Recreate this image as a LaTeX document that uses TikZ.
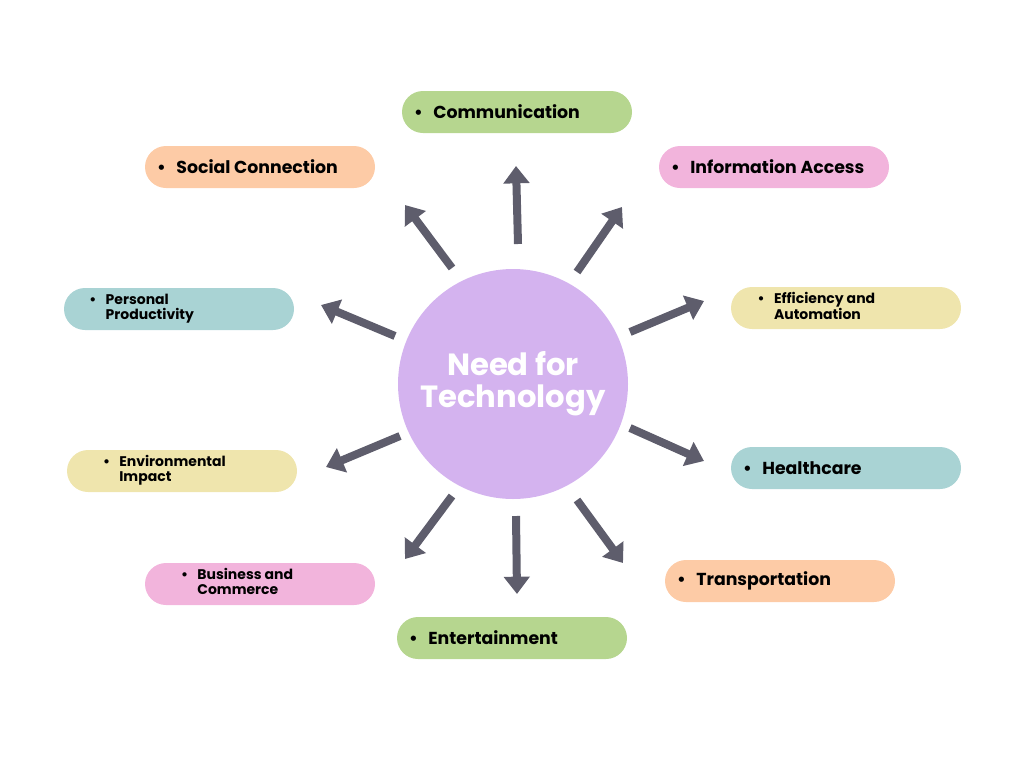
\documentclass[tikz,border=0pt]{standalone}
\usepackage{fontspec}
\setmainfont{Poppins}
\usetikzlibrary{arrows.meta}
\definecolor{pgreen}{HTML}{B6D68F}
\definecolor{ppeach}{HTML}{FDCBA6}
\definecolor{ppink}{HTML}{F2B4DC}
\definecolor{pteal}{HTML}{A9D3D4}
\definecolor{pyellow}{HTML}{EFE5AD}
\definecolor{ppurple}{HTML}{D4B3EF}
\definecolor{arrowgray}{HTML}{5E5D6C}
\tikzset{
  pill/.style={fill=#1, draw=none, rounded corners=15.75pt, minimum width=172.5pt, minimum height=31.5pt, inner sep=0pt},
  one/.style={anchor=west, inner sep=0pt, font=\bfseries\fontsize{13}{15}\selectfont},
  two/.style={anchor=west, inner sep=0pt, font=\bfseries\fontsize{10.5}{11.5}\selectfont},
  spoke/.style={draw=arrowgray, line width=6pt, -{Triangle[width=19pt,length=13pt]}},
}
\newcommand{\onetext}[1]{\textbullet\hspace{8pt}#1}
\newcommand{\twotext}[2]{\begin{tabular}{@{}l@{\hspace{7pt}}l@{}}\textbullet & #1\\ & #2\end{tabular}}
\begin{document}
\begin{tikzpicture}[x=0.75pt,y=0.75pt,yscale=-1,xscale=1]
\useasboundingbox (0,0) rectangle (1024,768);

% centre
\node[circle, fill=ppurple, minimum size=172.5pt, inner sep=0pt, align=center, text=white,
      font=\bfseries\fontsize{23}{24}\selectfont] (need) at (513,384) {Need for\\Technology};

% pills
\node[pill=pgreen]  (comm) at (517,112) {};
\node[pill=ppeach]  (soc)  at (260,167) {};
\node[pill=ppink]   (info) at (774,167) {};
\node[pill=pteal]   (pers) at (179,309) {};
\node[pill=pyellow] (eff)  at (846,308) {};
\node[pill=pyellow] (env)  at (182,471) {};
\node[pill=pteal]   (heal) at (846,468) {};
\node[pill=ppink]   (bus)  at (260,584) {};
\node[pill=ppeach]  (trans) at (780,581) {};
\node[pill=pgreen]  (ent)  at (512,638) {};

% labels
\node[one] (commt) at ([xshift=9pt]comm.west) {\onetext{Communication}};
\node[one] (soct) at ([xshift=9pt]soc.west) {\onetext{Social Connection}};
\node[one] (infot) at ([xshift=9pt]info.west) {\onetext{Information Access}};
\node[one] (healt) at ([xshift=9pt]heal.west) {\onetext{Healthcare}};
\node[one] (transt) at ([xshift=9pt]trans.west) {\onetext{Transportation}};
\node[one] (entt) at ([xshift=9pt]ent.west) {\onetext{Entertainment}};
\node[two] (perst) at ([xshift=19pt]pers.west) {\twotext{Personal}{Productivity}};
\node[two] (efft) at ([xshift=20pt]eff.west) {\twotext{Efficiency and}{Automation}};
\node[two] (envt) at ([xshift=27pt]env.west) {\twotext{Environmental}{Impact}};
\node[two] (bust) at ([xshift=27pt]bus.west) {\twotext{Business and}{Commerce}};

% spokes
\coordinate (a1) at (518,244); \coordinate (b1) at (516,166);
\coordinate (a2) at (577,272); \coordinate (b2) at (622,207);
\coordinate (a3) at (452,268); \coordinate (b3) at (405,205);
\coordinate (a4) at (630,332); \coordinate (b4) at (704,301);
\coordinate (a5) at (395,336); \coordinate (b5) at (321,305);
\coordinate (a6) at (630,428); \coordinate (b6) at (704,461);
\coordinate (a7) at (400,436); \coordinate (b7) at (326,467);
\coordinate (a8) at (516,516); \coordinate (b8) at (517,594);
\coordinate (a9) at (577,500); \coordinate (b9) at (623,563);
\coordinate (a10) at (452,496); \coordinate (b10) at (405,559);
\foreach \i in {1,...,10} \draw[spoke] (a\i) -- (b\i);

\end{tikzpicture}
\end{document}
